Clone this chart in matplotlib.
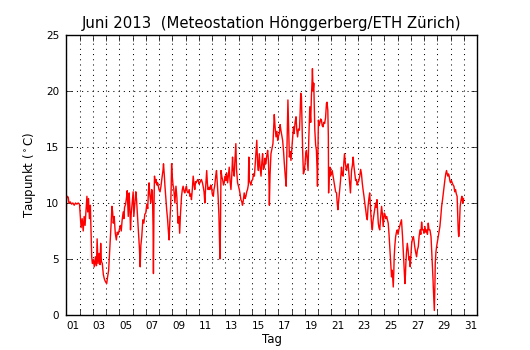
import matplotlib
matplotlib.use("Agg")
import matplotlib.pyplot as plt
import numpy as np
from matplotlib.ticker import FixedLocator, FixedFormatter, NullFormatter

# Taupunkt Juni 2013 (Tag des Monats als Bruchzahl, Wert in Grad C)
tag_w1 = [1.00, 1.02, 1.08, 1.15, 1.20, 1.30, 1.40, 1.50, 1.60, 1.70, 1.80, 1.90, 2.00,
          2.05, 2.12, 2.20, 2.28, 2.35, 2.42, 2.50, 2.56, 2.62, 2.68, 2.75, 2.82, 2.88,
          2.92, 2.97, 3.05, 3.12, 3.20, 3.28, 3.33, 3.40, 3.48, 3.55, 3.60, 3.65, 3.72,
          3.80, 3.88, 3.95, 4.05, 4.12, 4.20, 4.30, 4.38, 4.45, 4.50, 4.55, 4.62, 4.70,
          4.78, 4.85, 4.92, 5.00, 5.08, 5.15, 5.22, 5.30, 5.35, 5.40, 5.48, 5.55, 5.60,
          5.65, 5.68, 5.75, 5.80, 5.85, 5.90, 6.00, 6.05, 6.10, 6.18, 6.25, 6.30, 6.38,
          6.45, 6.52, 6.58, 6.63, 6.70, 6.78, 6.86, 6.93, 7.00, 7.08, 7.15, 7.20, 7.25,
          7.30, 7.38, 7.45, 7.50, 7.55, 7.58, 7.62, 7.66, 7.72, 7.78, 7.85, 7.90]
wert_w1 = [8.5, 10.4, 10.6, 10.5, 10.0, 10.1, 9.9, 10.0, 9.8, 10.0, 9.9, 10.0, 9.9,
           9.0, 7.8, 8.6, 7.5, 8.8, 8.0, 9.5, 10.6, 9.2, 10.4, 8.6, 9.8, 7.0,
           5.2, 4.6, 4.9, 4.3, 5.2, 4.4, 6.8, 4.6, 5.5, 4.5, 6.4, 4.8, 4.6,
           3.6, 3.2, 3.0, 2.8, 3.4, 4.0, 6.2, 8.0, 9.7, 9.2, 8.2, 8.8, 7.3,
           6.7, 7.4, 7.2, 7.6, 8.0, 7.5, 8.5, 9.2, 8.6, 9.6, 9.9, 10.5, 11.1,
           9.5, 8.8, 10.9, 9.6, 7.6, 9.0, 10.3, 11.0, 8.8, 10.0, 11.0, 10.4, 8.8,
           7.5, 6.0, 4.3, 6.2, 7.0, 8.5, 8.2, 9.0, 9.1, 9.9, 9.5, 11.0, 11.8,
           10.8, 10.0, 11.2, 11.0, 8.0, 3.7, 9.5, 12.4, 11.8, 12.1, 11.6, 11.8]

tag_w2 = [8.00, 8.08, 8.15, 8.22, 8.30, 8.34, 8.40, 8.45, 8.52, 8.58, 8.65, 8.70, 8.76,
          8.82, 8.88, 8.92, 8.95, 9.00, 9.06, 9.12, 9.20, 9.28, 9.35, 9.43, 9.50, 9.56,
          9.62, 9.70, 9.76, 9.82, 9.90, 9.95, 10.02, 10.07, 10.13, 10.20, 10.28, 10.33,
          10.40, 10.45, 10.52, 10.58, 10.65, 10.70, 10.76, 10.80, 10.88, 10.95, 11.02,
          11.08, 11.15, 11.20, 11.28, 11.33, 11.40, 11.46, 11.52, 11.58, 11.60, 11.65,
          11.70, 11.78, 11.84, 11.90, 11.96, 12.02, 12.10, 12.15, 12.20, 12.28, 12.34,
          12.40, 12.46, 12.52, 12.55, 12.60, 12.64, 12.68, 12.75, 12.80, 12.87, 12.92,
          13.00, 13.05, 13.10, 13.18, 13.24, 13.30, 13.36, 13.43, 13.50, 13.55, 13.60,
          13.68, 13.72, 13.80, 13.85, 13.93, 14.00, 14.06, 14.12, 14.18, 14.25, 14.30,
          14.36, 14.43, 14.50, 14.56, 14.62, 14.68, 14.74, 14.78, 14.82, 14.88, 14.94]
wert_w2 = [11.2, 11.0, 11.5, 12.2, 12.9, 13.5, 12.5, 11.5, 10.4, 9.4, 8.5, 7.6, 6.7,
           8.4, 9.7, 11.5, 13.5, 12.4, 11.6, 11.2, 10.0, 11.5, 10.5, 8.2, 8.8, 7.3,
           9.0, 10.6, 11.2, 11.5, 11.0, 10.9, 11.3, 11.5, 11.0, 10.9, 11.2, 10.6,
           10.8, 10.3, 11.3, 12.4, 11.6, 11.2, 11.9, 11.8, 12.0, 12.1, 11.7,
           11.8, 12.0, 12.1, 11.8, 11.5, 11.0, 10.0, 11.4, 12.6, 12.9, 11.8,
           11.2, 11.4, 11.2, 11.6, 11.5, 10.8, 10.6, 11.2, 11.5, 12.4, 12.9,
           11.8, 10.6, 9.0, 7.6, 5.0, 8.0, 12.9, 12.3, 12.1, 11.6, 11.8,
           12.4, 12.0, 12.7, 11.8, 12.5, 13.2, 12.0, 11.2, 12.6, 14.1, 13.0,
           12.4, 13.6, 15.3, 13.0, 11.8, 11.5, 11.2, 10.8, 10.3, 10.1, 9.8,
           10.2, 10.9, 10.4, 10.6, 11.0, 11.2, 11.6, 14.1, 12.0, 11.8, 11.6]

tag_w3 = [15.00, 15.07, 15.13, 15.20, 15.26, 15.30, 15.38, 15.44, 15.50, 15.57, 15.63,
          15.70, 15.76, 15.82, 15.88, 15.95, 16.00, 16.07, 16.13, 16.20, 16.26, 16.30,
          16.33, 16.38, 16.45, 16.52, 16.60, 16.65, 16.70, 16.76, 16.83, 16.90, 16.96,
          17.02, 17.08, 17.14, 17.20, 17.27, 17.33, 17.40, 17.46, 17.53, 17.60, 17.64,
          17.68, 17.73, 17.78, 17.84, 17.90, 17.96, 18.02, 18.09, 18.15, 18.20, 18.27,
          18.34, 18.40, 18.46, 18.52, 18.60, 18.65, 18.70, 18.75, 18.80, 18.84, 18.90,
          18.97, 19.02, 19.08, 19.13, 19.20, 19.25, 19.30, 19.38, 19.45, 19.50, 19.55,
          19.58, 19.63, 19.68, 19.72, 19.76, 19.82, 19.88, 19.93, 19.96, 20.00, 20.03,
          20.08, 20.13, 20.20, 20.26, 20.32, 20.38, 20.44, 20.50, 20.57, 20.64, 20.68,
          20.74, 20.78, 20.80, 20.85, 20.90, 20.95, 21.00, 21.07, 21.14, 21.20, 21.27,
          21.33, 21.40, 21.45, 21.50, 21.56, 21.64, 21.70, 21.77, 21.83, 21.90, 21.95]
wert_w3 = [12.0, 12.1, 12.6, 12.4, 13.5, 14.1, 15.6, 13.5, 12.9, 14.4, 13.2,
           12.4, 13.6, 14.4, 13.0, 13.2, 14.0, 13.5, 14.2, 14.7, 13.8, 12.0,
           9.8, 12.5, 14.4, 14.8, 15.3, 16.5, 17.9, 16.8, 15.9, 16.4, 15.6,
           16.0, 16.2, 17.0, 16.5, 16.0, 15.6, 14.6, 13.5, 12.4, 11.5, 14.0,
           16.5, 19.2, 16.8, 14.1, 14.6, 13.8, 14.8, 15.9, 16.8, 16.2, 17.2,
           17.7, 16.5, 15.9, 16.6, 16.5, 18.0, 19.8, 19.5, 16.8, 14.7, 12.6,
           12.9, 13.5, 14.5, 14.7, 13.6, 12.9, 15.5, 18.6, 17.2, 19.5, 20.8,
           22.0, 20.0, 20.7, 18.6, 16.5, 15.2, 14.7, 13.0, 11.5, 15.0, 17.4,
           16.9, 17.1, 17.5, 17.4, 16.9, 16.8, 17.2, 17.1, 17.6, 18.9, 19.0,
           18.3, 16.0, 10.9, 12.8, 13.2, 12.4, 12.6, 12.9, 12.4, 12.0, 11.5,
           11.0, 10.9, 10.0, 9.4, 10.2, 11.2, 12.0, 13.2, 12.5, 12.4, 13.6]

tag_w4 = [22.00, 22.07, 22.15, 22.20, 22.27, 22.33, 22.40, 22.45, 22.53, 22.60, 22.65,
          22.72, 22.78, 22.84, 22.90, 22.96, 23.00, 23.08, 23.15, 23.22, 23.28, 23.34,
          23.40, 23.47, 23.53, 23.60, 23.66, 23.72, 23.78, 23.84, 23.90, 23.95, 24.00,
          24.05, 24.10, 24.15, 24.20, 24.28, 24.35, 24.40, 24.45, 24.50, 24.55, 24.60,
          24.66, 24.72, 24.80, 24.86, 24.92, 24.96, 25.00, 25.05, 25.12, 25.18, 25.24,
          25.30, 25.36, 25.43, 25.50, 25.55, 25.60, 25.65, 25.68, 25.72, 25.75, 25.80,
          25.86, 25.92, 25.98, 26.04, 26.10, 26.16, 26.23, 26.30, 26.34, 26.38, 26.43,
          26.48, 26.53, 26.56, 26.60, 26.63, 26.68, 26.74, 26.80, 26.86, 26.91, 26.96,
          27.02, 27.07, 27.13, 27.20, 27.25, 27.30, 27.37, 27.44, 27.50, 27.57, 27.63,
          27.70, 27.76, 27.82, 27.88, 27.95, 28.00, 28.07, 28.13, 28.20, 28.26, 28.32,
          28.38, 28.45, 28.50, 28.53, 28.58, 28.63, 28.68, 28.70, 28.74, 28.78, 28.82,
          28.85, 28.90, 28.95, 29.02, 29.08, 29.14, 29.20, 29.27, 29.33, 29.40, 29.46,
          29.52, 29.58, 29.64, 29.70, 29.75, 29.80, 29.85, 29.90, 29.95, 30.00, 30.07,
          30.13, 30.20, 30.26, 30.32, 30.38, 30.44, 30.50, 30.54, 30.58, 30.62, 30.65,
          30.70, 30.73, 30.80, 30.86, 30.90, 30.95, 30.98]
wert_w4 = [14.4, 13.5, 12.9, 13.3, 13.5, 12.6, 11.5, 10.9, 12.9, 13.4, 14.1,
           13.2, 12.6, 12.0, 12.1, 11.6, 11.8, 12.0, 12.4, 13.0, 12.6, 11.8,
           11.2, 10.6, 10.0, 9.4, 8.8, 8.5, 9.7, 10.4, 10.9, 9.8, 8.8,
           8.0, 7.6, 8.4, 8.8, 9.4, 10.0, 9.6, 10.3, 9.2, 8.2, 7.8,
           7.6, 8.6, 9.7, 9.0, 7.9, 8.5, 9.1, 9.0, 8.6, 8.8, 8.5,
           8.2, 7.2, 5.8, 4.4, 3.4, 4.0, 3.1, 2.5, 3.8, 5.2, 6.2,
           7.0, 7.4, 7.6, 7.2, 7.6, 7.9, 8.2, 8.5, 7.8, 7.0, 5.8,
           4.6, 3.4, 2.8, 3.6, 4.6, 5.6, 6.4, 5.8, 4.9, 5.2, 4.3,
           5.4, 6.4, 6.8, 7.0, 6.6, 6.1, 5.6, 5.2, 5.8, 6.1, 7.0,
           7.6, 7.2, 8.3, 7.6, 7.6, 7.3, 7.9, 7.4, 7.6, 7.2, 8.2,
           7.6, 7.6, 7.2, 7.0, 5.8, 4.6, 3.2, 2.5, 1.5, 0.4, 2.5,
           4.6, 5.6, 6.1, 6.6, 7.0, 7.4, 7.9, 8.8, 9.7, 10.3, 10.9,
           11.5, 12.1, 12.6, 12.9, 12.6, 12.4, 12.6, 12.4, 12.0, 11.8, 12.0,
           11.8, 11.6, 11.5, 11.0, 11.2, 10.8, 10.6, 9.0, 7.6, 7.0, 7.3,
           8.8, 9.7, 10.3, 10.6, 10.2, 10.0, 10.4]

tage = np.concatenate([tag_w1, tag_w2, tag_w3, tag_w4])
taupunkt = np.concatenate([wert_w1, wert_w2, wert_w3, wert_w4])

tick_tage = np.arange(1, 33)
label_tage = np.arange(1, 32, 2)
label_texte = ["%02d" % d for d in label_tage]

fig = plt.figure(figsize=(5.3, 3.5), dpi=100, facecolor="white")
ax = fig.add_axes([0.125, 0.1, 0.775, 0.8])

ax.plot(tage, taupunkt, color="red", lw=1.0)

ax.set_xlim(1, 32)
ax.set_ylim(0, 25)
ax.set_yticks([0, 5, 10, 15, 20, 25])

# Striche um Mitternacht, Beschriftung jeweils am Mittag
ax.xaxis.set_major_locator(FixedLocator(tick_tage))
ax.xaxis.set_major_formatter(NullFormatter())
ax.xaxis.set_minor_locator(FixedLocator(label_tage + 0.5))
ax.xaxis.set_minor_formatter(FixedFormatter(label_texte))

ax.tick_params(which="major", direction="in", length=4, width=0.5,
               top=True, right=True, labelsize=7.5)
ax.tick_params(which="minor", length=0, labelsize=7.5, pad=4)
ax.tick_params(axis="y", pad=5)

ax.grid(True, which="major", color="black", linestyle=(0, (1, 4)), linewidth=0.75)
for s in ax.spines.values():
    s.set_linewidth(1.0)

ax.set_xlabel("Tag", fontsize=8.5, labelpad=2)
ax.set_ylabel(r"Taupunkt ($^\circ$C)", fontsize=8.5, labelpad=6)
ax.set_title("Juni 2013  (Meteostation Hönggerberg/ETH Zürich)", fontsize=10.7, pad=5)

fig.savefig("out.png", dpi=100, facecolor="white")
